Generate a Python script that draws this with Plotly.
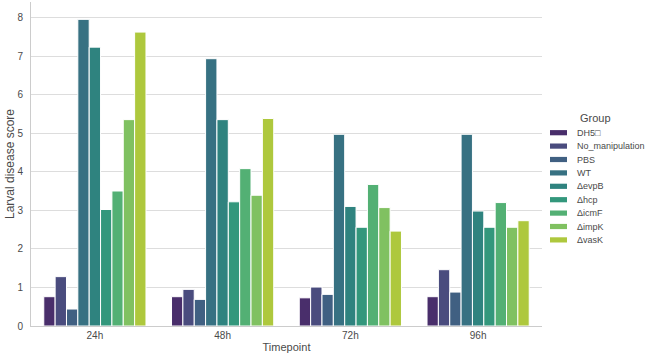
import colorsys
import plotly.graph_objects as go

timepoints = ["24h", "48h", "72h", "96h"]
groups = ["DH5\u25a1", "No_manipulation", "PBS", "WT", "ΔevpB", "Δhcp", "ΔicmF", "ΔimpK", "ΔvasK"]
dh5 = [0.76, 0.76, 0.73, 0.76]
no_manipulation = [1.28, 0.95, 1.01, 1.46]
pbs = [0.44, 0.69, 0.82, 0.88]
wt = [7.95, 6.93, 4.97, 4.97]
d_evpb = [7.23, 5.35, 3.10, 2.98]
d_hcp = [3.02, 3.22, 2.56, 2.56]
d_icmf = [3.50, 4.08, 3.67, 3.20]
d_impk = [5.35, 3.39, 3.07, 2.56]
d_vask = [7.62, 5.38, 2.46, 2.73]
series = [dh5, no_manipulation, pbs, wt, d_evpb, d_hcp, d_icmf, d_impk, d_vask]

viridis9 = ["#482475", "#414487", "#355f8d", "#2a788e", "#21918c",
            "#22a884", "#44bf70", "#7ad151", "#bddf26"]


def desat(hexc, f=0.75):
    r, g, b = (int(hexc[i:i + 2], 16) / 255 for i in (1, 3, 5))
    h, l, s = colorsys.rgb_to_hls(r, g, b)
    r, g, b = colorsys.hls_to_rgb(h, l, s * f)
    return "rgb(%d,%d,%d)" % (round(r * 255), round(g * 255), round(b * 255))


colors = [desat(c) for c in viridis9]

W, H = 650, 359
ML, MR, MT, MB = 31, 108, 2, 33
PW, PH = W - ML - MR, H - MT - MB


def px_x(px):
    return (px - ML) / PW


def px_y(py):
    return (H - MB - py) / PH


fig = go.Figure()
for name, vals, col in zip(groups, series, colors):
    fig.add_trace(go.Bar(
        x=timepoints, y=vals, name=name, showlegend=False,
        marker=dict(color=col, line=dict(color="white", width=1)),
    ))

# custom compact legend (seaborn style)
txt = "#4a4a4a"
shapes = []
annotations = [dict(
    text="Group", x=px_x(595.5), y=px_y(118), xref="paper", yref="paper",
    xanchor="center", yanchor="middle", showarrow=False,
    font=dict(size=11, color=txt),
)]
for i, (name, col) in enumerate(zip(groups, colors)):
    cy = 132.7 + 13.4 * i
    shapes.append(dict(
        type="rect", xref="paper", yref="paper",
        x0=px_x(550), x1=px_x(567), y0=px_y(cy + 2.6), y1=px_y(cy - 2.6),
        fillcolor=col, line=dict(width=0),
    ))
    annotations.append(dict(
        text=name, x=px_x(575), y=px_y(cy), xref="paper", yref="paper",
        xanchor="left", yanchor="middle", showarrow=False,
        font=dict(size=9, color=txt),
    ))

font = "Liberation Sans, Arial, sans-serif"
fig.update_layout(
    width=W, height=H,
    margin=dict(l=ML, r=MR, t=MT, b=MB),
    paper_bgcolor="white", plot_bgcolor="white",
    barmode="group", bargap=0.2, bargroupgap=0,
    font=dict(family=font, size=10, color=txt),
    showlegend=False,
    shapes=shapes,
    annotations=annotations,
    xaxis=dict(
        range=[-0.5, 3.5],
        showgrid=False, showline=True, linecolor="#cccccc", linewidth=1,
        ticks="", tickfont=dict(size=10, color=txt),
        title=dict(text="Timepoint", font=dict(size=11, color=txt), standoff=3),
    ),
    yaxis=dict(
        range=[0, 8.4], dtick=1, tick0=0,
        showgrid=True, gridcolor="#dddddd", gridwidth=1,
        showline=True, linecolor="#cccccc", linewidth=1,
        zeroline=False, ticks="", tickfont=dict(size=10, color=txt),
        ticklabelstandoff=5,
        title=dict(text="Larval disease score", font=dict(size=12, color=txt), standoff=0),
    ),
)

fig.write_html("out.html")
